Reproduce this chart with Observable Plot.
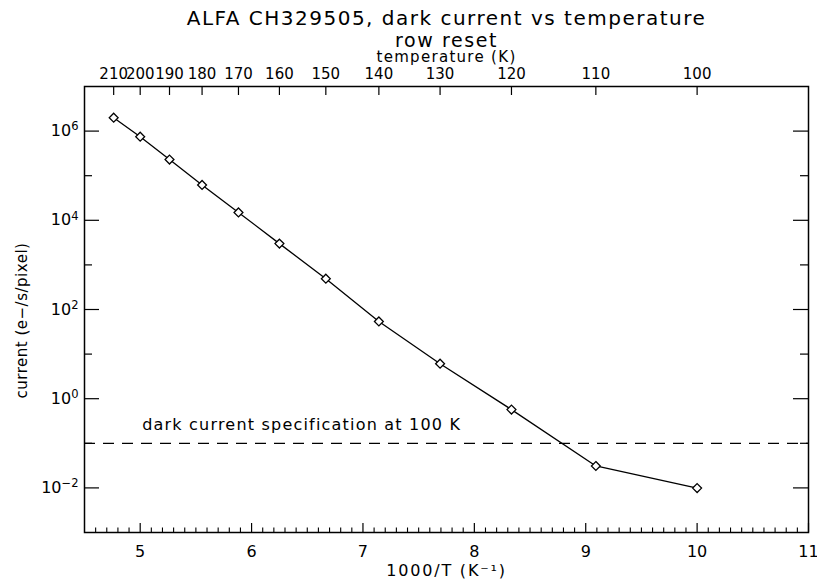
<!DOCTYPE html>
<html>
<head>
<meta charset="utf-8">
<script src="https://cdn.jsdelivr.net/npm/d3@7"></script>
<script src="https://cdn.jsdelivr.net/npm/@observablehq/plot@0.6"></script>
<style>
  html, body { margin: 0; padding: 0; background: #fff; }
  #chart svg { display: block; }
</style>
</head>
<body>
<div id="chart"></div>
<script>
// ---- data ----
const tempK = [210, 200, 190, 180, 170, 160, 150, 140, 130, 120, 110, 100];
const current = [2.0e6, 7.5e5, 2.3e5, 6.2e4, 1.5e4, 3.0e3, 4.9e2, 54, 6.1, 0.57, 0.031, 0.0099];
const specValue = [0.1];
const xTicks = [5, 6, 7, 8, 9, 10, 11];
const yMajorTicks = [1e-2, 1e0, 1e2, 1e4, 1e6];
const yTickLabels = ["10⁻²", "10⁰", "10²", "10⁴", "10⁶"];
const yTickExponents = ["−2", "0", "2", "4", "6"];
const yMinorTicks = [1e-1, 1e1, 1e3, 1e5];
const titleText = "ALFA CH329505, dark current vs temperature";
const subtitleText = "row reset";
const topAxisLabel = "temperature (K)";
const xAxisLabel = "1000/T (K⁻¹)";
const yAxisLabel = "current (e−/s/pixel)";
const specLabel = "dark current specification at 100 K";

// ---- layout ----
const W = 817, H = 586;
const mL = 84, mR = 9, mT = 86, mB = 54;
const fw = W - mL - mR, fh = H - mT - mB;

const data = tempK.map((t, i) => ({x: 1000 / t, y: current[i]}));
const xMinor = d3.range(46, 110).map(d => d / 10).filter(d => Math.abs(d - Math.round(d)) > 1e-9);

const chart = Plot.plot({
  width: W, height: H,
  marginLeft: mL, marginRight: mR, marginTop: mT, marginBottom: mB,
  x: {domain: [4.5, 11], axis: null},
  y: {type: "log", domain: [1e-3, 1e7], axis: null},
  style: {fontFamily: "'DejaVu Sans', sans-serif", background: "#fff", color: "#000", overflow: "visible"},
  marks: [
    Plot.ruleY(specValue, {stroke: "black", strokeWidth: 1.3, strokeDasharray: "11,8"}),
    Plot.line(data, {x: "x", y: "y", stroke: "black", strokeWidth: 1.3}),
    Plot.dot(data, {x: "x", y: "y", symbol: "diamond2", r: 4, stroke: "black", fill: "white", strokeWidth: 1.3}),
    Plot.frame({stroke: "black", strokeWidth: 1.5}),
    // inward ticks
    Plot.tickX(xTicks, {x: d => d, insetTop: fh - 9, stroke: "black", strokeWidth: 1.2}),
    Plot.tickX(xMinor, {x: d => d, insetTop: fh - 4.5, stroke: "black", strokeWidth: 1.1}),
    Plot.tickX(tempK, {x: t => 1000 / t, insetBottom: fh - 9, stroke: "black", strokeWidth: 1.2}),
    Plot.tickY(yMajorTicks, {y: d => d, insetRight: fw - 15, stroke: "black", strokeWidth: 1.2}),
    Plot.tickY(yMajorTicks, {y: d => d, insetLeft: fw - 15, stroke: "black", strokeWidth: 1.2}),
    Plot.tickY(yMinorTicks, {y: d => d, insetRight: fw - 8, stroke: "black", strokeWidth: 1.2}),
    Plot.tickY(yMinorTicks, {y: d => d, insetLeft: fw - 8, stroke: "black", strokeWidth: 1.2}),
    // tick labels
    Plot.axisX(xTicks, {anchor: "bottom", tickSize: 0, tickPadding: 13, fontSize: 16, label: null}),
    Plot.axisX(tempK.map(t => 1000 / t), {anchor: "top", tickSize: 0, tickPadding: 8, fontSize: 15,
      tickFormat: d => String(Math.round(1000 / d)), label: null}),
    Plot.axisY(yMajorTicks, {anchor: "left", tickSize: 0, tickPadding: 6, fontSize: 16,
      tickFormat: d => yTickLabels[yMajorTicks.indexOf(d)], label: null}),
    // titles & labels
    Plot.text([titleText], {frameAnchor: "top", lineAnchor: "middle", dy: -68, fontSize: 20}),
    Plot.text([subtitleText], {frameAnchor: "top", lineAnchor: "middle", dy: -46, fontSize: 19}),
    Plot.text([topAxisLabel], {frameAnchor: "top", lineAnchor: "middle", dy: -29, fontSize: 15}),
    Plot.text([xAxisLabel], {frameAnchor: "bottom", lineAnchor: "middle", dy: 38, fontSize: 16}),
    Plot.text([yAxisLabel], {frameAnchor: "left", textAnchor: "middle", lineAnchor: "middle", dx: -62, dy: 11, rotate: -90, fontSize: 15}),
    Plot.text(specValue, {y: d => d, x: () => 5, dx: 2, dy: -18, text: () => specLabel, textAnchor: "start", fontSize: 16})
  ]
});

// Hershey-like wide lettering
const spacing = new Map([
  [titleText, "1.5px"], [subtitleText, "1.6px"], [topAxisLabel, "1.3px"],
  [xAxisLabel, "1.8px"], [yAxisLabel, "0.5px"], [specLabel, "1.2px"]
]);
d3.select(chart).selectAll("text").each(function() {
  const s = spacing.get(this.textContent);
  if (s) this.style.letterSpacing = s;
  const k = yTickLabels.indexOf(this.textContent);
  if (k >= 0) {
    const el = d3.select(this);
    el.text(null);
    el.append("tspan").text("10");
    el.append("tspan").attr("dy", "-0.5em").attr("font-size", "0.72em").text(yTickExponents[k]);
  }
});

document.getElementById("chart").appendChild(chart);
</script>
</body>
</html>
